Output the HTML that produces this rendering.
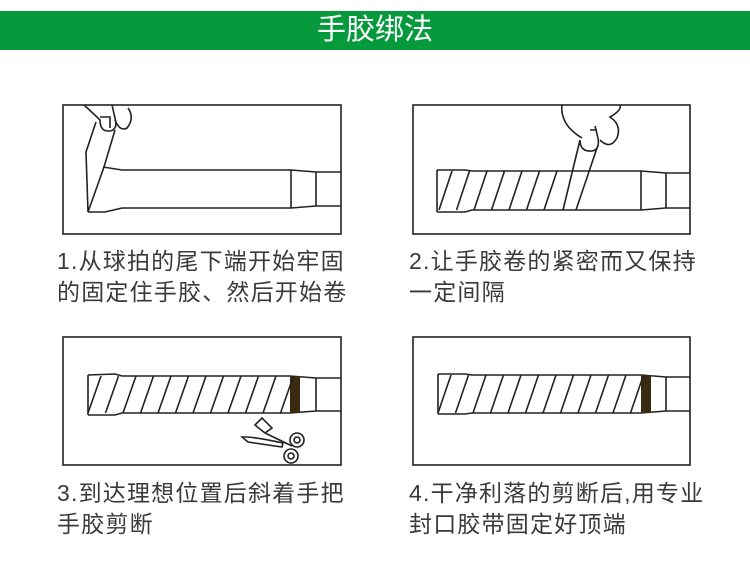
<!DOCTYPE html>
<html><head><meta charset="utf-8"><style>
body{margin:0;width:750px;height:575px;background:#fff;overflow:hidden;position:relative;font-family:"Liberation Sans","Noto Sans CJK SC",sans-serif}
.bar{position:absolute;left:0;top:11px;width:750px;height:39px;background:#069a3c;color:#fff;font-size:29px;text-align:center;line-height:39px}
.t{position:absolute;font-size:23px;letter-spacing:1.2px;color:#3a3a3a;line-height:31px;white-space:nowrap}
svg{position:absolute;left:0;top:0}
</style></head><body>
<div class="bar">手胶绑法</div>
<svg width="750" height="575" fill="none" stroke="#222" stroke-width="1.6">
<rect x="63" y="105" width="278" height="129"/>
<rect x="413" y="105" width="277" height="129"/>
<rect x="63" y="337" width="278" height="128"/>
<rect x="413" y="337" width="277" height="128"/>
<path d="M103,167 L122,170 L291,170 L316,172 L341,172 M88,212 L105,212 L122,208 L291,208 L316,206 L341,206 M291,170 V208 M316,172 V206"/>
<path d="M88,212 L86,152 L96,122 M88,212 L104,167 L115,130"/>
<path d="M84,105 Q95,115 100,120 Q100,132 110,131 Q118,130 115,118 L112,105 M100,117 L110,117 L110,128 M115,120 Q120,132 127,128 Q135,118 128,108"/>
<path d="M437,170 L465,170 L472,171 L641,171 L666,173 L690,173 M437,212 L465,212 L472,210 L641,210 L666,208 L690,208 M437,170 V212 M641,171 V210 M666,173 V208"/>
<g id="s2"></g>
<path d="M576,210 L598,145 M563,210 L580,140 M562,105 Q560,125 582,138 M580,140 Q580,152 592,151 Q600,150 598,138 L595,126 M590,130 L597,130 M600,140 Q610,150 617,138 Q622,125 610,117 Q622,110 620,105"/>
<path d="M88,375 L115,374 L122,376 L290,376 L316,378 L341,378 M88,415 L115,415 L122,413 L290,413 L316,411 L341,411 M88,375 V415 M316,378 V411"/>
<rect x="290" y="376" width="10" height="37" fill="#3a2a10" stroke="none"/>
<g id="s3"></g>
<path d="M255,425 L262,418 L272,428 L265,433 Z M265,433 L292,446 M242,437 Q250,436 283,443 L282,447 L248,442 Z"/>
<circle cx="297" cy="440" r="7"/><circle cx="297" cy="440" r="3"/>
<circle cx="291" cy="456" r="7"/><circle cx="291" cy="456" r="3"/>
<path d="M438,374 L465,374 L472,375 L641,375 L666,377 L690,377 M438,414 L465,414 L472,413 L641,413 L666,411 L690,411 M438,374 V414 M666,377 V411"/>
<rect x="641" y="375" width="10" height="38" fill="#3a2a10" stroke="none"/>
<g id="s4"></g>
</svg>
<div class="t" style="left:57px;top:246px">1.从球拍的尾下端开始牢固<br>的固定住手胶、然后开始卷</div>
<div class="t" style="left:409px;top:246px">2.让手胶卷的紧密而又保持<br>一定间隔</div>
<div class="t" style="left:57px;top:478px">3.到达理想位置后斜着手把<br>手胶剪断</div>
<div class="t" style="left:409px;top:478px">4.干净利落的剪断后,用专业<br>封口胶带固定好顶端</div>
<script>
function s(id,x0,n,y1,y2,step){var g=document.getElementById(id),h='';for(var i=0;i<n;i++){var x=x0+i*step;h+='<line x1="'+(x+13)+'" y1="'+y1+'" x2="'+x+'" y2="'+y2+'"/>';}g.innerHTML=h;}
s('s2',439,7,171,210,17.5);
s('s3',88,12,376,413,17.5);
s('s4',438,12,375,413,17.5);
</script>
</body></html>
